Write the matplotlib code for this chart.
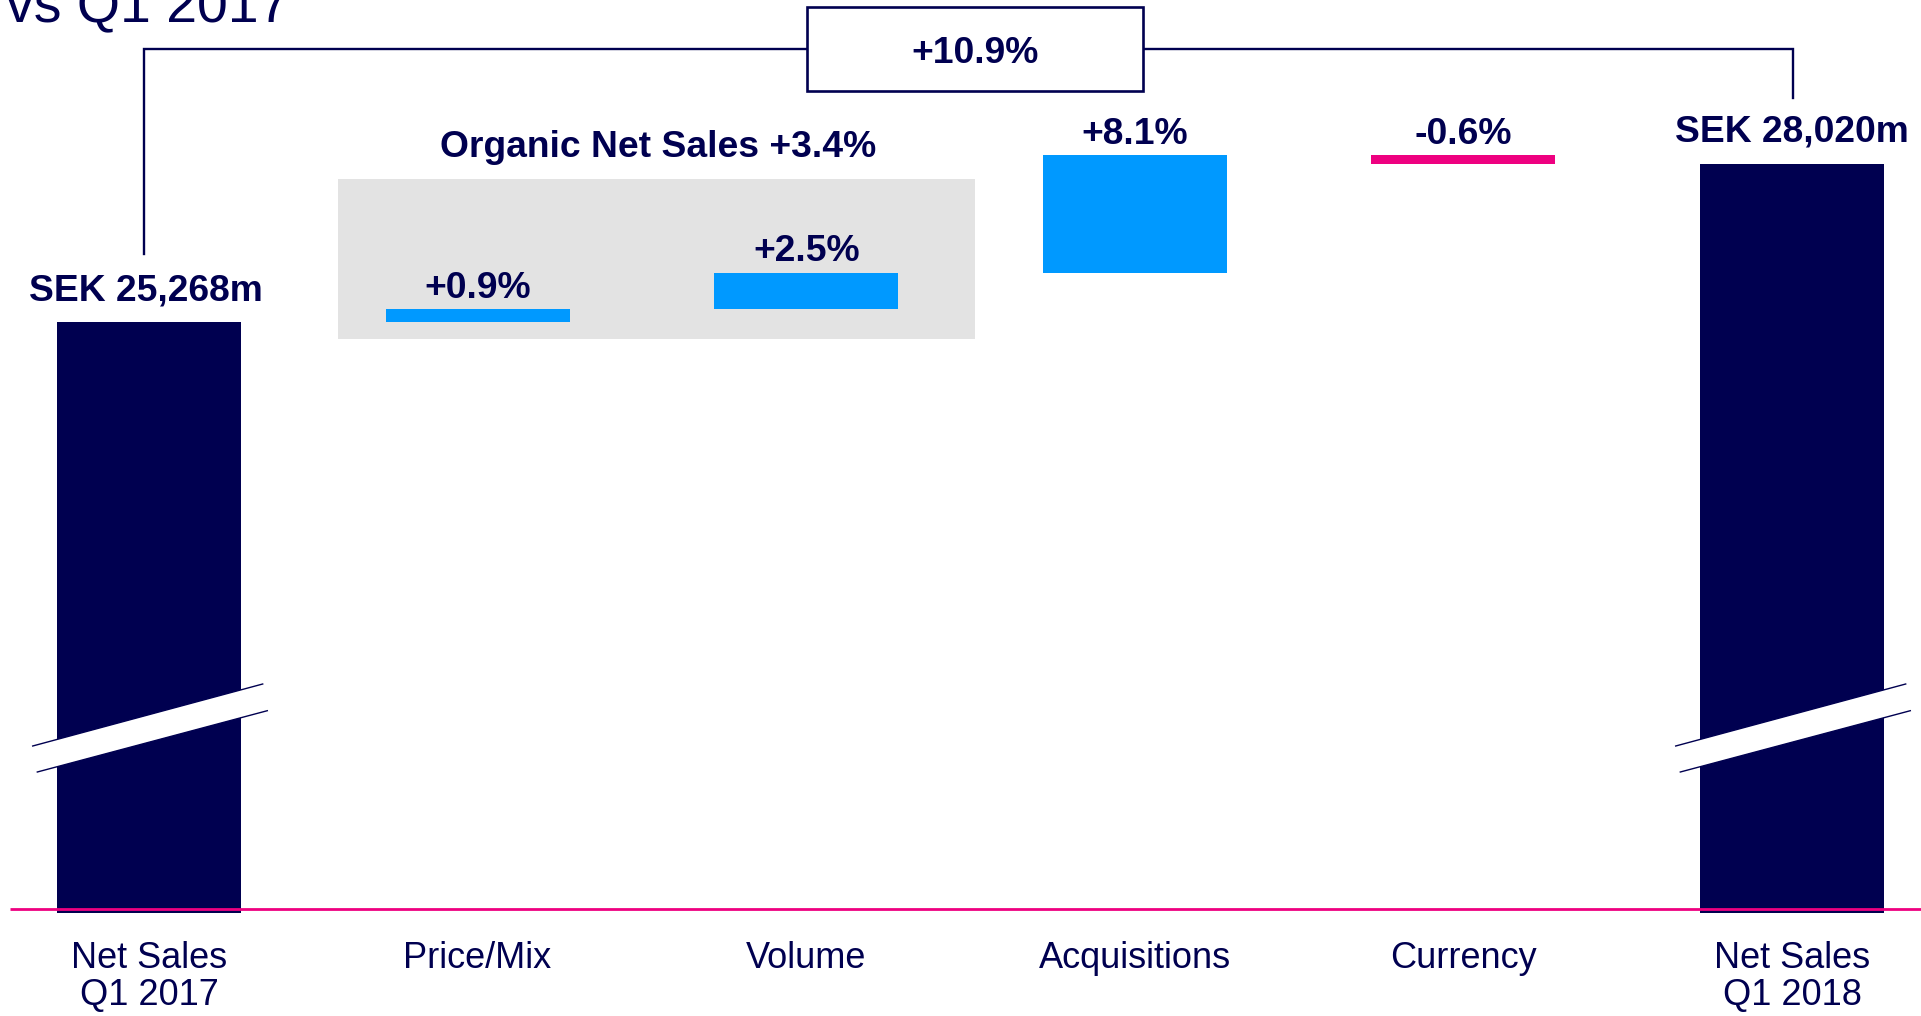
import matplotlib
matplotlib.use("Agg")
import matplotlib.pyplot as plt
import matplotlib.transforms as mtransforms
from matplotlib.patches import Rectangle, Polygon

# ---------------- data ----------------
categories = ["Net Sales\nQ1 2017", "Price/Mix", "Volume", "Acquisitions", "Currency", "Net Sales\nQ1 2018"]
start_value = 25268          # SEK m
end_value = 28020            # SEK m
delta_values = [227, 632, 2047, -154]   # SEK m (Price/Mix, Volume, Acquisitions, Currency)
delta_labels = ["+0.9%", "+2.5%", "+8.1%", "-0.6%"]
total_labels = ["SEK 25,268m", "SEK 28,020m"]
organic_label = "Organic Net Sales +3.4%"
total_change_label = "+10.9%"
title_fragment = "vs Q1 2017"

# ---------------- style ----------------
NAVY = "#000050"
BLUE = "#0099FF"
PINK = "#EE0080"
GREY = "#E3E3E3"
plt.rcParams['font.family'] = ['Liberation Sans', 'DejaVu Sans']

W, H, DPI = 1921, 1016, 100
fig = plt.figure(figsize=(W / DPI, H / DPI), dpi=DPI)
ax = fig.add_axes([0, 0, 1, 1])
ax.set_axis_off()

UNIT = 328.6      # px per category
X0 = 149.0        # px of first category centre
K = 0.0575        # px per SEK m (broken axis scale)
REF_PX = 322.0    # pixel row of start value top
ax.set_xlim(-X0 / UNIT, (W - X0) / UNIT)
ax.set_ylim(start_value - (H - REF_PX) / K, start_value + REF_PX / K)
FLOOR = start_value - (912.5 - REF_PX) / K

bt = mtransforms.blended_transform_factory(ax.transData, ax.transAxes)
def yp(py):
    return 1 - py / H
def xd(px):
    return (px - X0) / UNIT

BW = 0.56
xs = list(range(len(categories)))

# totals
ax.bar([xs[0], xs[-1]], [start_value - FLOOR, end_value - FLOOR], bottom=FLOOR,
       width=BW, color=NAVY, linewidth=0, zorder=3)

# deltas
bottoms = []
run = start_value
for d in delta_values:
    bottoms.append(run)
    run += d
colors = [BLUE if d > 0 else PINK for d in delta_values]
ax.bar(xs[1:-1], delta_values, bottom=bottoms, width=BW, color=colors, linewidth=0, zorder=3)

# grey organic box
ax.add_patch(Rectangle((1 - 0.426, yp(338.5)), 1.941, (338.5 - 179) / H, transform=bt,
                       facecolor=GREY, edgecolor='none', zorder=1))
ax.text(xd(658), yp(157), organic_label, transform=bt, ha='center', va='baseline',
        fontsize=26.8, fontweight='bold', color=NAVY, zorder=5)

# delta labels
for x, b, d, lab in zip(xs[1:-1], bottoms, delta_values, delta_labels):
    top = max(b, b + d)
    ax.annotate(lab, xy=(x, top), xytext=(0, 8.2), textcoords='offset points',
                ha='center', va='baseline', fontsize=26.8, fontweight='bold', color=NAVY, zorder=5)

# total labels
for x, v, lab in zip([xs[0], xs[-1]], [start_value, end_value], total_labels):
    ax.annotate(lab, xy=(x, v), xytext=(-2.5 if x == 0 else 0, 15.8), textcoords='offset points',
                ha='center', va='baseline', fontsize=26.8, fontweight='bold', color=NAVY, zorder=5)

# category labels
for x, cat in zip(xs, categories):
    for j, line in enumerate(cat.split("\n")):
        ax.text(x, yp(968 + 37 * j), line, transform=bt, ha='center', va='baseline',
                fontsize=26, color=NAVY)

# pink baseline
ax.plot([10 / W, 1.0], [yp(909.3), yp(909.3)], transform=ax.transAxes, color=PINK,
        lw=2.0, solid_capstyle='butt', zorder=4)

# break marks
for xc in [xs[0], xs[-1]]:
    u0 = (xc - 116.3 / UNIT, yp(746))
    u1 = (xc + 113.7 / UNIT, yp(684))
    l0 = (xc - 111.7 / UNIT, yp(772))
    l1 = (xc + 118.3 / UNIT, yp(710.7))
    ax.add_patch(Polygon([u0, u1, l1, l0], closed=True, transform=bt,
                         facecolor='white', edgecolor='none', zorder=4))
    for a, b in [(u0, u1), (l0, l1)]:
        ax.plot([a[0], b[0]], [a[1], b[1]], transform=bt, color=NAVY, lw=1.0, zorder=5)

# bracket connector and total change box
box_l, box_r = xd(806.7), xd(1143.3)
ax.plot([xs[0] - 0.016, xs[0] - 0.016, box_l], [yp(253.6), yp(49.3), yp(49.3)], transform=bt,
        color=NAVY, lw=1.7, zorder=5, solid_joinstyle='miter')
ax.plot([box_r, xs[-1] + 0.003, xs[-1] + 0.003], [yp(49.3), yp(49.3), yp(98.3)], transform=bt,
        color=NAVY, lw=1.7, zorder=5, solid_joinstyle='miter')
ax.add_patch(Rectangle((box_l, yp(90.7)), box_r - box_l, (90.7 - 7.3) / H, transform=bt,
                       facecolor='white', edgecolor=NAVY, lw=1.9, zorder=5))
ax.text((box_l + box_r) / 2, yp(63.3), total_change_label, transform=bt, ha='center',
        va='baseline', fontsize=26.8, fontweight='bold', color=NAVY, zorder=6)

# title fragment (cut at top, as in the original slide)
ax.text(290 / W, yp(22), title_fragment, transform=ax.transAxes, ha='right', va='baseline',
        fontsize=40, color=NAVY)

fig.savefig("out.png", dpi=DPI)
